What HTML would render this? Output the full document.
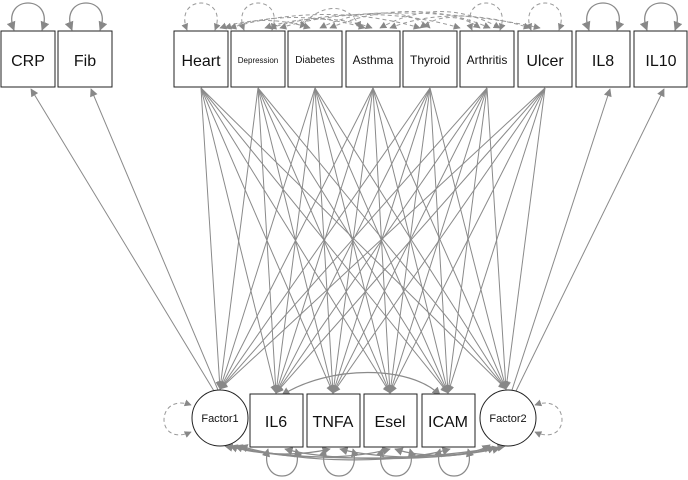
<!DOCTYPE html>
<html><head><meta charset="utf-8"><style>
html,body{margin:0;padding:0;background:#fff;}
svg{display:block;}
text{font-family:"Liberation Sans",Arial,sans-serif;fill:#111;text-anchor:middle;}
</style></head><body>
<svg width="688" height="480" viewBox="0 0 688 480" xmlns="http://www.w3.org/2000/svg">
<defs>
<marker id="a" viewBox="0 0 10 10" refX="9" refY="5" markerWidth="9" markerHeight="8" orient="auto-start-reverse"><path d="M0,0L10,5L0,10z" fill="#888"/></marker>
<marker id="b" viewBox="0 0 10 10" refX="9" refY="5" markerWidth="7" markerHeight="7" orient="auto-start-reverse"><path d="M0,0L10,5L0,10z" fill="#888"/></marker>
</defs>
<g stroke="#8a8a8a" stroke-width="1" fill="none" marker-end="url(#a)">
<line x1="214" y1="391" x2="31" y2="89"/>
<line x1="218" y1="390" x2="91" y2="89"/>
<line x1="512" y1="390" x2="610" y2="89"/>
<line x1="516" y1="391" x2="664" y2="89"/>
<line x1="201" y1="88" x2="220" y2="389"/><line x1="201" y1="88" x2="276" y2="393"/><line x1="201" y1="88" x2="333" y2="393"/><line x1="201" y1="88" x2="390" y2="393"/><line x1="201" y1="88" x2="448" y2="393"/><line x1="201" y1="88" x2="506" y2="389"/>
<line x1="258" y1="88" x2="220" y2="389"/><line x1="258" y1="88" x2="276" y2="393"/><line x1="258" y1="88" x2="333" y2="393"/><line x1="258" y1="88" x2="390" y2="393"/><line x1="258" y1="88" x2="448" y2="393"/><line x1="258" y1="88" x2="506" y2="389"/>
<line x1="315" y1="88" x2="220" y2="389"/><line x1="315" y1="88" x2="276" y2="393"/><line x1="315" y1="88" x2="333" y2="393"/><line x1="315" y1="88" x2="390" y2="393"/><line x1="315" y1="88" x2="448" y2="393"/><line x1="315" y1="88" x2="506" y2="389"/>
<line x1="373" y1="88" x2="220" y2="389"/><line x1="373" y1="88" x2="276" y2="393"/><line x1="373" y1="88" x2="333" y2="393"/><line x1="373" y1="88" x2="390" y2="393"/><line x1="373" y1="88" x2="448" y2="393"/><line x1="373" y1="88" x2="506" y2="389"/>
<line x1="430" y1="88" x2="220" y2="389"/><line x1="430" y1="88" x2="276" y2="393"/><line x1="430" y1="88" x2="333" y2="393"/><line x1="430" y1="88" x2="390" y2="393"/><line x1="430" y1="88" x2="448" y2="393"/><line x1="430" y1="88" x2="506" y2="389"/>
<line x1="487" y1="88" x2="220" y2="389"/><line x1="487" y1="88" x2="276" y2="393"/><line x1="487" y1="88" x2="333" y2="393"/><line x1="487" y1="88" x2="390" y2="393"/><line x1="487" y1="88" x2="448" y2="393"/><line x1="487" y1="88" x2="506" y2="389"/>
<line x1="545" y1="88" x2="220" y2="389"/><line x1="545" y1="88" x2="276" y2="393"/><line x1="545" y1="88" x2="333" y2="393"/><line x1="545" y1="88" x2="390" y2="393"/><line x1="545" y1="88" x2="448" y2="393"/><line x1="545" y1="88" x2="506" y2="389"/>
</g>
<g stroke="#8a8a8a" stroke-width="1.3" fill="none" marker-end="url(#b)" marker-start="url(#b)">
<path d="M14,30 C0,-6 56,-6 42,30"/>
<path d="M72,30 C58,-6 114,-6 100,30"/>
<path d="M589,30 C575,-6 631,-6 617,30"/>
<path d="M647,30 C633,-6 689,-6 675,30"/>
</g>
<g stroke="#999" stroke-width="1" fill="none" stroke-dasharray="4,3" marker-end="url(#b)" marker-start="url(#b)">
<path d="M187,30 C173,-6 229,-6 215,30"/>
<path d="M244,30 C230,-6 286,-6 272,30"/>
<path d="M472,30 C458,-6 514,-6 500,30"/>
<path d="M531,30 C517,-6 573,-6 559,30"/>
<path d="M220,28 C250,18 280,18 310,28"/>
<path d="M225,28 C270,14 320,14 365,28"/>
<path d="M230,28 C290,10 360,10 420,28"/>
<path d="M265,28 C300,16 340,16 372,28"/>
<path d="M270,28 C330,10 400,10 460,28"/>
<path d="M280,28 C350,6 460,10 540,28"/>
<path d="M300,28 C320,2 350,2 360,28"/>
<path d="M320,28 C360,8 410,8 430,28"/>
<path d="M330,28 C380,6 440,6 490,28"/>
<path d="M380,28 C420,6 460,6 500,28"/>
<path d="M390,28 C430,12 480,12 530,28"/>
<path d="M420,28 C440,14 460,14 480,28"/>
</g>
<g fill="#fff" stroke="#222" stroke-width="1">
<rect x="1" y="31" width="54" height="56"/><rect x="58" y="31" width="54" height="56"/>
<rect x="174" y="31" width="54" height="56"/><rect x="231" y="31" width="54" height="56"/>
<rect x="288" y="31" width="54" height="56"/><rect x="346" y="31" width="54" height="56"/>
<rect x="403" y="31" width="54" height="56"/><rect x="460" y="31" width="54" height="56"/>
<rect x="518" y="31" width="54" height="56"/><rect x="576" y="31" width="54" height="56"/>
<rect x="634" y="31" width="53" height="56"/>
</g>
<text x="28" y="66" font-size="16">CRP</text>
<text x="85" y="66" font-size="16">Fib</text>
<text x="201" y="66" font-size="16">Heart</text>
<text x="258" y="63" font-size="8">Depression</text>
<text x="315" y="63" font-size="10">Diabetes</text>
<text x="373" y="64" font-size="12">Asthma</text>
<text x="430" y="64" font-size="12">Thyroid</text>
<text x="487" y="64" font-size="12">Arthritis</text>
<text x="545" y="66" font-size="16">Ulcer</text>
<text x="603" y="66" font-size="16">IL8</text>
<text x="661" y="66" font-size="16">IL10</text>
<g stroke="#8a8a8a" stroke-width="1.2" fill="none" marker-end="url(#b)" marker-start="url(#b)">
<path d="M282,395 C330,365 410,365 440,395"/>
<path d="M268,449 C258,485 306,485 296,449"/>
<path d="M325,449 C315,485 363,485 353,449"/>
<path d="M382,449 C372,485 420,485 410,449"/>
<path d="M440,449 C430,485 478,485 468,449"/>
<path d="M225,446 C300,462 420,462 505,446"/>
<path d="M230,446 C260,456 300,456 330,449"/>
<path d="M235,446 C280,460 350,460 390,449"/>
<path d="M240,446 C300,464 400,464 450,449"/>
<path d="M285,449 C330,462 440,462 500,448"/>
<path d="M340,449 C380,460 460,460 495,447"/>
<path d="M395,449 C420,458 470,458 490,445"/>
</g>
<g stroke="#999" stroke-width="1" fill="none" stroke-dasharray="4,3" marker-end="url(#b)" marker-start="url(#b)">
<path d="M191,405 C155,392 155,448 191,432"/>
<path d="M535,405 C571,392 571,448 535,432"/>
</g>
<g fill="#fff" stroke="#222" stroke-width="1">
<circle cx="220" cy="418" r="28"/><circle cx="508" cy="418" r="28"/>
<rect x="250" y="394" width="53" height="53"/><rect x="307" y="394" width="53" height="53"/>
<rect x="364" y="394" width="53" height="53"/><rect x="422" y="394" width="53" height="53"/>
</g>
<text x="220" y="422" font-size="11">Factor1</text>
<text x="508" y="422" font-size="11">Factor2</text>
<text x="276" y="427" font-size="16">IL6</text>
<text x="333" y="427" font-size="16">TNFA</text>
<text x="390" y="427" font-size="16">Esel</text>
<text x="448" y="427" font-size="16">ICAM</text>
</svg>
</body></html>
